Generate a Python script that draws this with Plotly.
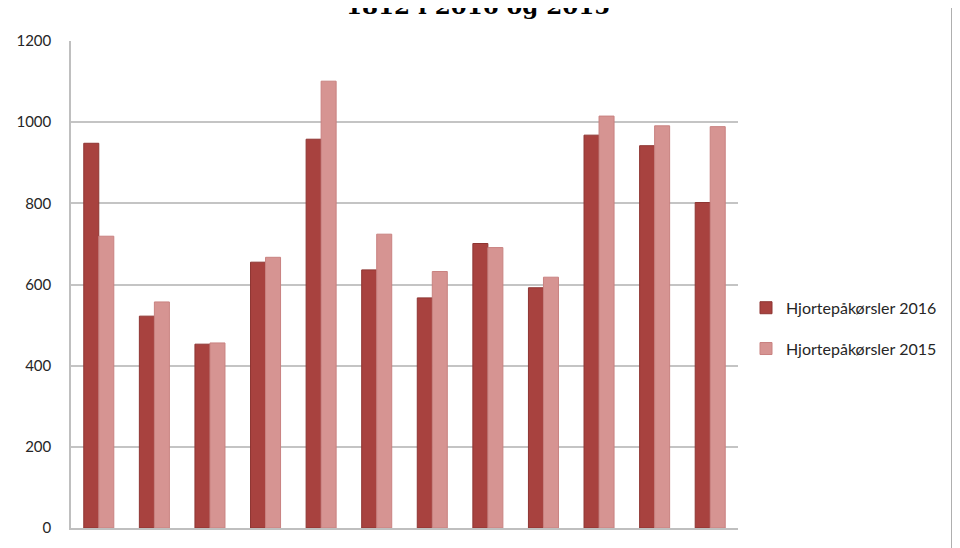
import plotly.graph_objects as go

# months (x labels fall below the visible crop)
months = ["jan", "feb", "mar", "apr", "mai", "jun",
          "jul", "aug", "sep", "okt", "nov", "des"]

# values
hjort_2016 = [948, 522, 453, 655, 958, 636, 567, 701, 592, 968, 942, 802]
hjort_2015 = [719, 557, 456, 667, 1101, 724, 632, 691, 618, 1015, 991, 989]

y_ticks = [0, 200, 400, 600, 800, 1000, 1200]

title_text = "1812 i 2016 og 2015"
font_name = "Lato"

fig = go.Figure()

fig.add_trace(go.Bar(x=months, y=hjort_2016,
                     name="Hjortepåkørsler 2016", legendgroup="a",
                     marker=dict(color="#a8423f",
                                 line=dict(color="#8e3532", width=1))))

fig.add_trace(go.Bar(x=months, y=hjort_2015,
                     name="Hjortepåkørsler 2015", legendgroup="b",
                     marker=dict(color="#d69492",
                                 line=dict(color="#c98280", width=1))))

fig.update_layout(
    width=960, height=548,
    margin=dict(l=63, r=230, t=33, b=28),
    paper_bgcolor="white",
    plot_bgcolor="white",
    barmode="group",
    bargap=0.46,
    bargroupgap=0,
    showlegend=True,
    font=dict(family=font_name, size=15, color="#262626"),
    legend=dict(x=1.012, xanchor="left", y=0.41, yanchor="middle",
                bgcolor="rgba(0,0,0,0)",
                font=dict(family=font_name, size=16, color="#262626"),
                itemwidth=30, tracegroupgap=17),
    xaxis=dict(showgrid=False, showline=True,
               linecolor="#bfbfbf", linewidth=2,
               ticks="", ticklabelstandoff=16, tickangle=0,
               tickfont=dict(size=15), automargin=False,
               fixedrange=True),
    yaxis=dict(range=[0, 1200], tickvals=y_ticks,
               showgrid=True, gridcolor="#c4c4c4", gridwidth=1.5,
               showline=True, linecolor="#bfbfbf", linewidth=1.5,
               zeroline=False, ticks="", ticklabelstandoff=15,
               tickfont=dict(size=15), automargin=False),
)

# title: only its lower part shows at the top edge
fig.add_annotation(text="<b>" + title_text + "</b>",
                   xref="paper", yref="paper",
                   x=0.61, xanchor="center",
                   y=1.041, yanchor="bottom",
                   showarrow=False,
                   font=dict(family="DejaVu Serif", size=23, color="black"))

# box round the whole chart (top edge is outside the crop)
fig.add_shape(type="rect", xref="paper", yref="paper",
              x0=-0.097, x1=1.321, y0=-0.2, y1=1.3,
              line=dict(color="#a6a6a6", width=2),
              fillcolor="rgba(0,0,0,0)", layer="below")

fig.write_html("out.html")
